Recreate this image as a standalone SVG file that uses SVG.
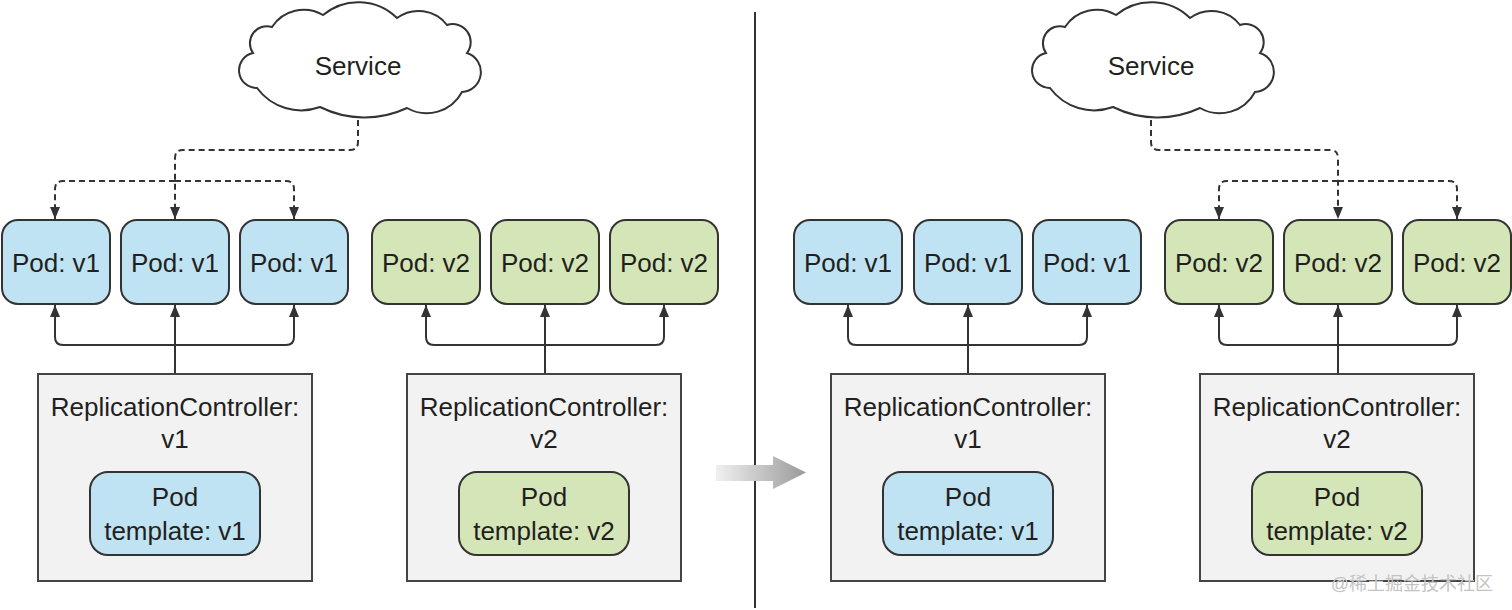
<svg xmlns="http://www.w3.org/2000/svg" xmlns:xlink="http://www.w3.org/1999/xlink" width="1512" height="610" viewBox="0 0 1512 610">
<style>
text{font-family:"Liberation Sans",Arial,sans-serif;font-size:26px;fill:#231f20;text-anchor:middle}
.cloud{fill:#fff;stroke:#333;stroke-width:2}
.pod1{fill:#bfe3f2;stroke:#333;stroke-width:2}
.pod2{fill:#d4e6b8;stroke:#333;stroke-width:2}
.rc{fill:#f2f2f2;stroke:#444;stroke-width:2}
.dash{fill:none;stroke:#333;stroke-width:2;stroke-dasharray:6 4;marker-end:url(#ah)}
.solid{fill:none;stroke:#333;stroke-width:2;marker-end:url(#ah)}
.wm{font-size:18px;fill:#c4c4c4;text-anchor:end;font-family:"Liberation Sans","Noto Sans CJK SC",sans-serif}
</style>
<defs>
<marker id="ah" viewBox="0 0 12 10" refX="12" refY="5" markerWidth="12" markerHeight="10" markerUnits="userSpaceOnUse" orient="auto">
<path d="M0,0 L12,5 L0,10 Z" fill="#333"/>
</marker>
<linearGradient id="grad" x1="0" y1="0" x2="1" y2="0">
<stop offset="0" stop-color="#f0f0f0"/>
<stop offset="1" stop-color="#9a9a9a"/>
</linearGradient>
<path id="cloudShape" d="M253,53 A17,17 0 0 1 272,27 A38,38 0 0 1 323,15 A55,55 0 0 1 397,18 A36,36 0 0 1 447,25 A18,18 0 0 1 467,53 A20,20 0 0 1 462,92 A40,40 0 0 1 407,108 A100,100 0 0 1 320,107 A55,55 0 0 1 257,88 A17.7,17.7 0 0 1 253,53 Z"/>
</defs>
<rect width="1512" height="610" fill="#fff"/>

<g id="connectors">
<path class="dash" d="M358,120 V142 Q358,150 350,150 H183 Q175,150 175,158 V219"/>
<path class="dash" d="M175,181 H63 Q55,181 55,189 V219"/>
<path class="dash" d="M175,181 H286 Q294,181 294,189 V219"/>
<path class="solid" d="M175,373 V305"/>
<path class="solid" d="M175,345 H63 Q55,345 55,337 V305"/>
<path class="solid" d="M175,345 H286 Q294,345 294,337 V305"/>
<path class="solid" d="M545,373 V305"/>
<path class="solid" d="M545,345 H434 Q426,345 426,337 V305"/>
<path class="solid" d="M545,345 H656 Q664,345 664,337 V305"/>
<path class="dash" d="M1151,120 V142 Q1151,150 1159,150 H1330 Q1338,150 1338,158 V219"/>
<path class="dash" d="M1338,181 H1227 Q1219,181 1219,189 V219"/>
<path class="dash" d="M1338,181 H1449 Q1457,181 1457,189 V219"/>
<path class="solid" d="M968,373 V305"/>
<path class="solid" d="M968,345 H856 Q848,345 848,337 V305"/>
<path class="solid" d="M968,345 H1079 Q1087,345 1087,337 V305"/>
<path class="solid" d="M1338,373 V305"/>
<path class="solid" d="M1338,345 H1227 Q1219,345 1219,337 V305"/>
<path class="solid" d="M1338,345 H1449 Q1457,345 1457,337 V305"/>
</g>

<line x1="755" y1="12" x2="755" y2="608" stroke="#333" stroke-width="2"/>
<polygon points="716,465 773,465 773,456 806,472.5 773,489 773,481 716,481" fill="url(#grad)"/>

<g id="service-left"><use xlink:href="#cloudShape" class="cloud"/><text x="358" y="75">Service</text></g>
<g id="service-right"><use xlink:href="#cloudShape" class="cloud" transform="translate(793,0)"/><text x="1151" y="75">Service</text></g>

<g id="pod-l1"><rect class="pod1" x="2" y="220" width="108" height="84" rx="16"/><text x="56" y="272">Pod: v1</text></g>
<g id="pod-l2"><rect class="pod1" x="121" y="220" width="108" height="84" rx="16"/><text x="175" y="272">Pod: v1</text></g>
<g id="pod-l3"><rect class="pod1" x="240" y="220" width="108" height="84" rx="16"/><text x="294" y="272">Pod: v1</text></g>
<g id="pod-l4"><rect class="pod2" x="372" y="220" width="108" height="84" rx="16"/><text x="426" y="272">Pod: v2</text></g>
<g id="pod-l5"><rect class="pod2" x="491" y="220" width="108" height="84" rx="16"/><text x="545" y="272">Pod: v2</text></g>
<g id="pod-l6"><rect class="pod2" x="610" y="220" width="108" height="84" rx="16"/><text x="664" y="272">Pod: v2</text></g>

<g id="pod-r1"><rect class="pod1" x="794" y="220" width="108" height="84" rx="16"/><text x="848" y="272">Pod: v1</text></g>
<g id="pod-r2"><rect class="pod1" x="914" y="220" width="108" height="84" rx="16"/><text x="968" y="272">Pod: v1</text></g>
<g id="pod-r3"><rect class="pod1" x="1033" y="220" width="108" height="84" rx="16"/><text x="1087" y="272">Pod: v1</text></g>
<g id="pod-r4"><rect class="pod2" x="1165" y="220" width="108" height="84" rx="16"/><text x="1219" y="272">Pod: v2</text></g>
<g id="pod-r5"><rect class="pod2" x="1284" y="220" width="108" height="84" rx="16"/><text x="1338" y="272">Pod: v2</text></g>
<g id="pod-r6"><rect class="pod2" x="1403" y="220" width="108" height="84" rx="16"/><text x="1457" y="272">Pod: v2</text></g>

<g id="rc-l1"><rect class="rc" x="38" y="374" width="274" height="207"/><text x="175" y="416">ReplicationController:</text><text x="175" y="448">v1</text>
<rect class="pod1" x="90" y="472" width="170" height="83" rx="18"/><text x="175" y="506">Pod</text><text x="175" y="540">template: v1</text></g>
<g id="rc-l2"><rect class="rc" x="407" y="374" width="274" height="207"/><text x="544" y="416">ReplicationController:</text><text x="544" y="448">v2</text>
<rect class="pod2" x="459" y="472" width="170" height="83" rx="18"/><text x="544" y="506">Pod</text><text x="544" y="540">template: v2</text></g>
<g id="rc-r1"><rect class="rc" x="831" y="374" width="274" height="207"/><text x="968" y="416">ReplicationController:</text><text x="968" y="448">v1</text>
<rect class="pod1" x="883" y="472" width="170" height="83" rx="18"/><text x="968" y="506">Pod</text><text x="968" y="540">template: v1</text></g>
<g id="rc-r2"><rect class="rc" x="1200" y="374" width="274" height="207"/><text x="1337" y="416">ReplicationController:</text><text x="1337" y="448">v2</text>
<rect class="pod2" x="1252" y="472" width="170" height="83" rx="18"/><text x="1337" y="506">Pod</text><text x="1337" y="540">template: v2</text></g>

<text class="wm" x="1493" y="590">@稀土掘金技术社区</text>
</svg>
